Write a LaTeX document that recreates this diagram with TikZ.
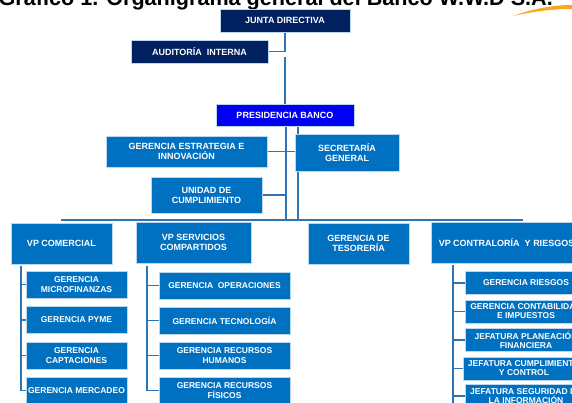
\documentclass[tikz,border=0pt]{standalone}
\usepackage{fontspec}
\setmainfont{Liberation Sans}
\usepackage{tikz}
\usetikzlibrary{backgrounds}

\definecolor{navyorg}{HTML}{002060}
\definecolor{presblue}{HTML}{0000F2}
\definecolor{midblue}{HTML}{0070C0}
\definecolor{linkblue}{HTML}{2E75B6}
\definecolor{edgeblue}{HTML}{BDD7EE}
\definecolor{swoosh}{HTML}{F7A823}

\begin{document}
\begin{tikzpicture}[x=1pt, y=-1pt,
    every node/.style={inner sep=0pt, align=center},
    orgbox/.style={rectangle, draw=edgeblue, line width=0.6pt, text=white,
                   font=\fontsize{9}{10}\selectfont\bfseries},
    navybox/.style={orgbox, fill=navyorg},
    presbox/.style={orgbox, fill=presblue},
    unitbox/.style={orgbox, fill=midblue},
    comchild/.style={unitbox, minimum width=101pt, minimum height=27pt,
                     font=\fontsize{8.5}{9.5}\selectfont\bfseries},
    servchild/.style={unitbox, minimum width=131pt, minimum height=27pt,
                      font=\fontsize{8.5}{9.5}\selectfont\bfseries},
    contchild/.style={unitbox, minimum width=122pt, minimum height=23pt,
                      font=\fontsize{8.5}{9}\selectfont\bfseries},
    link/.style={draw=linkblue, line width=1.6pt},
  ]
  \useasboundingbox (0,0) rectangle (572,403);

  % title and corner swoosh
  \node[anchor=base east, text=black, font=\fontsize{21.6}{22}\selectfont\bfseries]
    (title) at (553,6) {Gráfico 1. Organigrama general del Banco W.W.D S.A.};
  \fill[swoosh] (513,16) .. controls (535,8) and (555,5) .. (572,5)
    -- (572,9) .. controls (555,9) and (535,11) .. (513,16);

  % top levels
  \node[navybox, minimum width=130pt, minimum height=23pt] (junta) at (285,20.5) {JUNTA DIRECTIVA};
  \node[navybox, minimum width=137pt, minimum height=23pt] (auditoria) at (199.5,51.5) {AUDITORÍA\ \ INTERNA};
  \node[presbox, minimum width=138pt, minimum height=22pt] (presidencia) at (285,115) {PRESIDENCIA BANCO};
  \node[unitbox, minimum width=161pt, minimum height=31pt] (estrategia) at (186.5,151.5) {GERENCIA ESTRATEGIA E\\INNOVACIÓN};
  \node[unitbox, minimum width=104pt, minimum height=37pt] (secretaria) at (347,152.5) {SECRETARÍA\\GENERAL};
  \node[unitbox, minimum width=111pt, minimum height=36pt] (cumplimiento) at (206.5,195) {UNIDAD DE\\CUMPLIMIENTO};

  % vice presidencies
  \node[unitbox, minimum width=101pt, minimum height=41pt] (comercial) at (61.5,243.5) {VP COMERCIAL};
  \node[unitbox, minimum width=115pt, minimum height=41pt] (servicios) at (193.5,242.5) {VP SERVICIOS\\COMPARTIDOS};
  \node[unitbox, minimum width=101pt, minimum height=41pt] (tesoreria) at (358.5,243.5) {GERENCIA DE\\TESORERÍA};
  \node[unitbox, minimum width=151pt, minimum height=41pt] (contraloria) at (506.5,242.5) {VP CONTRALORÍA\ \ Y RIESGOS};

  % VP comercial
  \node[comchild] (microfinanzas) at (76.5,284.5) {GERENCIA\\MICROFINANZAS};
  \node[comchild] (pyme) at (76.5,320) {GERENCIA PYME};
  \node[comchild] (captaciones) at (76.5,355.5) {GERENCIA\\CAPTACIONES};
  \node[comchild] (mercadeo) at (76.5,390.5) {GERENCIA MERCADEO};

  % VP servicios compartidos
  \node[servchild] (operaciones) at (224.5,285.5) {GERENCIA\ \ OPERACIONES};
  \node[servchild] (tecnologia) at (224.5,320.5) {GERENCIA TECNOLOGÍA};
  \node[servchild] (humanos) at (224.5,355.5) {GERENCIA RECURSOS\\HUMANOS};
  \node[servchild] (fisicos) at (224.5,390.5) {GERENCIA RECURSOS\\FÍSICOS};

  % VP contraloria
  \node[contchild] (riesgos) at (526,283) {GERENCIA RIESGOS};
  \node[contchild] (contabilidad) at (526,311.5) {GERENCIA CONTABILIDAD\\E IMPUESTOS};
  \node[contchild] (planeacion) at (526,340) {JEFATURA PLANEACIÓN\\FINANCIERA};
  \node[contchild] (control) at (524,368.5) {JEFATURA CUMPLIMIENTO\\Y CONTROL};
  \node[contchild] (seguridad) at (526,396) {JEFATURA SEGURIDAD DE\\LA INFORMACIÓN};

  \coordinate (jgap) at (285,57);
  \coordinate (trunkA) at (286,220);
  \coordinate (trunkB) at (298,220);
  \coordinate (busL) at (61,220);
  \coordinate (busR) at (523,220);
  \coordinate (comV) at (21,266);
  \coordinate (servV) at (147,266);
  \coordinate (contV) at (453,265);
  \coordinate (contEnd) at (453,405);

  \begin{scope}[on background layer]
    \draw[link] (junta.south) |- (auditoria.east);
    \draw[link] (jgap) -- (presidencia.north);
    \draw[link] (presidencia.south -| trunkA) -- (trunkA);
    \draw[link] (presidencia.south -| trunkB) -- (trunkB);
    \draw[link] (estrategia.east) -- (estrategia.east -| secretaria.west);
    \draw[link] (cumplimiento.east) -- (cumplimiento.east -| trunkA);
    \draw[link] (busL) -- (busR);

    \draw[link] (comV) |- (mercadeo.west);
    \foreach \n in {microfinanzas,pyme,captaciones}
      \draw[link] (comV |- \n.west) -- (\n.west);
    \draw[link] (servV) |- (fisicos.west);
    \foreach \n in {operaciones,tecnologia,humanos}
      \draw[link] (servV |- \n.west) -- (\n.west);
    \draw[link] (contV) -- (contEnd);
    \foreach \n in {riesgos,contabilidad,planeacion,control,seguridad}
      \draw[link] (contV |- \n.west) -- (\n.west);
  \end{scope}
\end{tikzpicture}
\end{document}
